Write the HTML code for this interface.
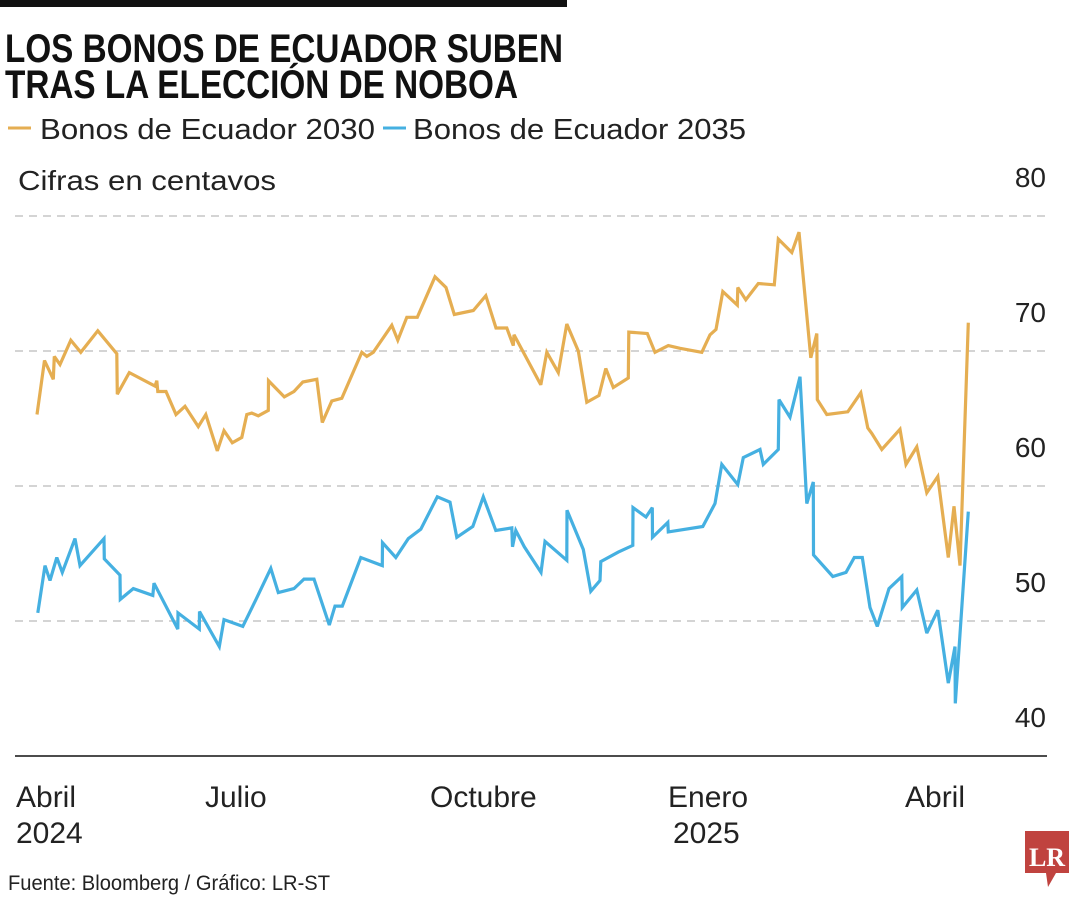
<!DOCTYPE html>
<html><head><meta charset="utf-8">
<style>
html,body{margin:0;padding:0;background:#fff;}
svg{display:block;font-family:"Liberation Sans",sans-serif;}
</style></head>
<body>
<svg id="chart" width="1080" height="900" viewBox="0 0 1080 900" xmlns="http://www.w3.org/2000/svg">
  <rect x="0" y="0" width="567" height="7" fill="#111"/>
  <text x="5" y="62" font-size="40" font-weight="bold" fill="#111" textLength="558" lengthAdjust="spacingAndGlyphs">LOS BONOS DE ECUADOR SUBEN</text>
  <text x="5" y="98" font-size="40" font-weight="bold" fill="#111" textLength="513" lengthAdjust="spacingAndGlyphs">TRAS LA ELECCIÓN DE NOBOA</text>
  <g>
    <line x1="8" y1="128" x2="31" y2="128" stroke="#E5AE52" stroke-width="3"/>
    <text x="40" y="139" font-size="29" fill="#222" textLength="335" lengthAdjust="spacingAndGlyphs">Bonos de Ecuador 2030</text>
    <line x1="383" y1="128" x2="406" y2="128" stroke="#45B0E1" stroke-width="3"/>
    <text x="413" y="139" font-size="29" fill="#222" textLength="333" lengthAdjust="spacingAndGlyphs">Bonos de Ecuador 2035</text>
  </g>
  <text x="18" y="190" font-size="28" fill="#222" textLength="258" lengthAdjust="spacingAndGlyphs">Cifras en centavos</text>
  <g id="grid"></g>
  <g id="xlabels"></g>
  <g id="series"></g>
  <text x="8" y="890" font-size="21" fill="#222" textLength="322" lengthAdjust="spacingAndGlyphs">Fuente: Bloomberg / Gráfico: LR-ST</text>
  <g>
    <path d="M1025 831 H1069 V873 H1056 L1048 887 L1046 873 H1025 Z" fill="#C0433F"/>
    <text x="1047" y="866" font-size="26" font-weight="bold" fill="#fff" text-anchor="middle" font-family="Liberation Serif, serif">LR</text>
  </g>
</svg>
<script>
const yTicks = [80, 70, 60, 50, 40];
const xTickDays = [-8.4, 67.2, 157.2, 252.4, 347.2];
const xTickLine1 = ["Abril", "Julio", "Octubre", "Enero", "Abril"];
const xTickLine2 = ["2024", "", "", "2025", ""];
const days2030 = [0,3,6.5,6.9,9.2,13.5,17.5,24.3,31.9,32.1,36.9,47.2,47.9,48.3,51.6,55.6,59.2,64.5,67.5,72.1,74.8,78.1,81.9,83.9,85.9,88.5,92.5,92.6,98.9,102.8,106.3,111.9,114.1,117.9,121.9,129.9,131.9,134.5,141.9,144.3,147.9,152.1,159.2,163.6,166.9,174.5,179.5,183.6,187.9,190.5,190.8,201.5,203.9,208.5,211.9,216.5,219.9,224.8,227.5,230.5,236.5,236.7,244.1,247.2,252.5,257.2,265.9,269.2,271.6,274.3,280.1,280.3,283.5,288.5,294.9,296.5,301.9,304.8,309.5,311.9,312.1,315.9,324.3,329.5,332.3,333.9,337.9,345.2,347.6,351.9,355.9,360.3,364.5,366.8,369.2,372.5];
const vals2030 = [65.3,69.3,67.9,69.6,69.0,70.8,69.9,71.5,69.8,66.8,68.4,67.4,67.8,67.0,67.0,65.3,65.9,64.4,65.3,62.6,64.1,63.2,63.6,65.3,65.4,65.2,65.6,67.8,66.6,67.0,67.7,67.9,64.7,66.3,66.5,69.9,69.6,69.9,71.9,70.8,72.5,72.5,75.5,74.7,72.7,73.0,74.1,71.7,71.7,70.4,71.2,67.5,69.9,68.4,72.0,70.0,66.2,66.7,68.7,67.3,68.0,71.4,71.3,69.9,70.4,70.2,69.9,71.2,71.6,74.4,73.4,74.7,73.8,75.0,74.9,78.3,77.3,78.8,69.5,71.3,66.4,65.3,65.5,66.9,64.3,63.9,62.7,64.2,61.6,62.9,59.5,60.7,54.7,58.5,54.1,72.1];
const days2035 = [0.3,3.2,5.2,7.9,10.1,15.2,17.2,26.8,26.9,33.2,33.3,38.5,46.3,46.8,56.3,56.4,64.9,65.0,72.9,74.8,82.3,87.6,93.5,96.5,102.8,106.8,110.8,116.9,119.2,122.1,129.5,138.1,138.2,143.5,148.5,153.5,160.1,165.2,167.9,174.3,178.5,183.5,189.9,190.2,191.5,194.9,201.6,203.2,211.9,212.0,218.5,221.5,225.2,225.5,232.5,238.3,238.4,243.6,246.1,246.2,252.3,252.5,266.3,271.2,273.9,280.3,282.5,289.2,290.5,296.5,296.8,301.2,305.2,307.9,310.5,310.6,318.3,323.6,326.9,330.1,333.2,336.1,340.8,345.9,346.1,351.9,355.9,360.3,364.5,367.2,367.3,372.5];
const vals2035 = [50.6,54.1,53.0,54.7,53.6,56.1,54.1,56.1,54.6,53.4,51.6,52.4,51.9,52.8,49.4,50.6,49.4,50.7,48.1,50.1,49.6,51.6,53.9,52.1,52.4,53.1,53.1,49.7,51.1,51.1,54.7,54.1,55.8,54.7,56.1,56.8,59.2,58.8,56.2,57.0,59.2,56.7,56.9,55.5,56.7,55.5,53.6,55.9,54.5,58.2,55.3,52.2,53.0,54.4,55.1,55.6,58.4,57.7,58.4,56.2,57.3,56.6,57.0,58.7,61.6,60.1,62.1,62.7,61.6,62.7,66.4,65.1,68.1,58.7,60.3,54.9,53.3,53.6,54.7,54.7,51.0,49.6,52.4,53.3,51.0,52.3,49.1,50.8,45.4,48.1,43.9,58.1];

const NS = "http://www.w3.org/2000/svg";
const xScale = d => 37 + d * 2.5;
const yScale = v => 216 + (80 - v) * 13.5;

const grid = document.getElementById('grid');
yTicks.forEach((t, i) => {
  const y = yScale(t);
  const ln = document.createElementNS(NS, 'line');
  
  
  ln.setAttribute('x1', 15); ln.setAttribute('x2', 1047);
  ln.setAttribute('y1', y); ln.setAttribute('y2', y);
  if (i === yTicks.length - 1) {
    ln.setAttribute('stroke', '#111'); ln.setAttribute('stroke-width', '1.5');
  } else {
    ln.setAttribute('stroke', '#bbb'); ln.setAttribute('stroke-width', '1.3');
    ln.setAttribute('stroke-dasharray', '8 6');
  }
  grid.appendChild(ln);
  const tx = document.createElementNS(NS, 'text');
  
  
  tx.setAttribute('x', 1046); tx.setAttribute('y', y - 29);
  tx.setAttribute('text-anchor', 'end');
  tx.setAttribute('font-size', '28'); tx.setAttribute('fill', '#222');
  tx.textContent = t;
  grid.appendChild(tx);
});

const xl = document.getElementById('xlabels');
xTickDays.forEach((d, i) => {
  const t1 = document.createElementNS(NS, 'text');
  
  
  t1.setAttribute('x', xScale(d)); t1.setAttribute('y', 807);
  t1.setAttribute('font-size', '30'); t1.setAttribute('fill', '#222');
  t1.textContent = xTickLine1[i];
  xl.appendChild(t1);
  if (xTickLine2[i]) {
    const t2 = document.createElementNS(NS, 'text');
    
    
    t2.setAttribute('x', xScale(d) + (i === 3 ? 5 : 0)); t2.setAttribute('y', 843);
    t2.setAttribute('font-size', '30'); t2.setAttribute('fill', '#222');
    t2.textContent = xTickLine2[i];
    xl.appendChild(t2);
  }
});

const series = document.getElementById('series');
function drawLine(days, vals, color, name) {
  const p = document.createElementNS(NS, 'polyline');
  
  
  p.setAttribute('points', days.map((d, i) => xScale(d).toFixed(1) + ',' + yScale(vals[i]).toFixed(1)).join(' '));
  p.setAttribute('fill', 'none');
  p.setAttribute('stroke', color);
  p.setAttribute('stroke-width', '3.2');
  p.setAttribute('stroke-linejoin', 'miter');
  p.setAttribute('stroke-miterlimit', '3');
  series.appendChild(p);
}
drawLine(days2030, vals2030, '#E5AE52', 'line-bonos-2030');
drawLine(days2035, vals2035, '#45B0E1', 'line-bonos-2035');
</script>
</body></html>
